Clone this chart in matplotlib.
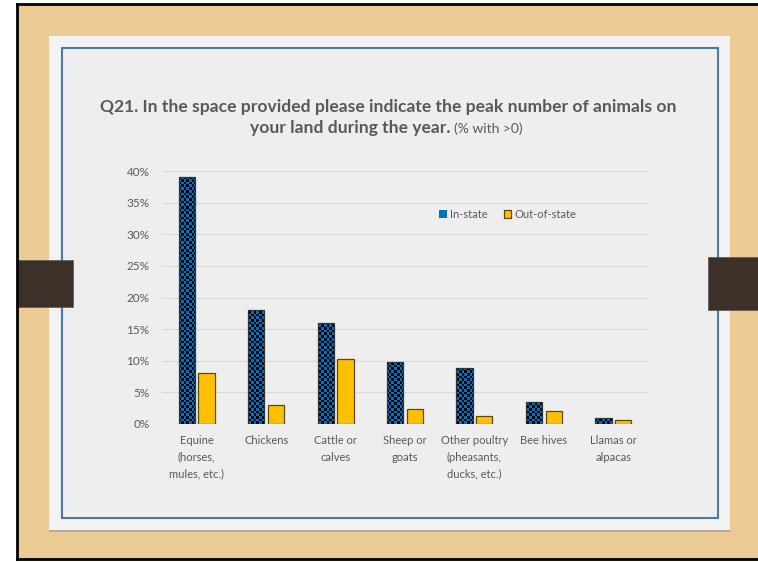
import numpy as np
import matplotlib
matplotlib.use("Agg")
import matplotlib.pyplot as plt
from matplotlib.patches import Rectangle
from matplotlib.path import Path
from matplotlib.colors import ListedColormap
from matplotlib.ticker import PercentFormatter

# ----------------------------
# Data (share of respondents with >0 animals)
# ----------------------------

categories = [
    "Equine\n(horses,\nmules, etc.)",
    "Chickens",
    "Cattle or\ncalves",
    "Sheep or\ngoats",
    "Other poultry\n(pheasants,\nducks, etc.)",
    "Bee hives",
    "Llamas or\nalpacas",
]
in_state = [0.391, 0.181, 0.160, 0.098, 0.088, 0.035, 0.009]
out_of_state = [0.080, 0.030, 0.103, 0.023, 0.013, 0.020, 0.006]
series_names = ["In-state", "Out-of-state"]

yticks = np.arange(0, 0.41, 0.05)

BLUE = "#0070C0"
GOLD = "#FFC000"
TEXT = "#595959"
FONT = "Lato"

plt.rcParams["font.family"] = [FONT, "DejaVu Sans"]

W, H = 758, 562
fig = plt.figure(figsize=(W / 100, H / 100), dpi=100)
fig.patch.set_facecolor("white")

# ----------------------------
# Slide background (pixel coordinates)
# ----------------------------

bg = fig.add_axes([0, 0, 1, 1])
bg.set_xlim(0, W)
bg.set_ylim(H, 0)
bg.axis("off")

bg.add_patch(Rectangle((17, 4), W - 17, 555, facecolor="#ebca94", edgecolor="none"))
bg.plot([17, 17], [4, 559], color="black", lw=2)
bg.plot([17, W], [4, 4], color="black", lw=2)
bg.plot([17, W], [559, 559], color="black", lw=2)

# card + shadow
bg.plot([50, 730], [531, 531], color="#a8a8a8", lw=1.2)
bg.add_patch(Rectangle((49, 36), 681, 494, facecolor="#f2f2f2", edgecolor="none"))
bg.add_patch(Rectangle((62, 48), 656, 470, facecolor="#eeeeee", edgecolor="#4a7aa0", lw=1.5))

# side tabs
bg.add_patch(Rectangle((18, 260), 55, 47, facecolor="#3b3129", edgecolor="#555555", lw=0.5))
bg.add_patch(Rectangle((708, 257), 50, 53, facecolor="#3b3129", edgecolor="#555555", lw=0.5))

# title
bg.text(388, 107, "Q21. In the space provided please indicate the peak number of animals on",
        ha="center", va="center", fontsize=12.6, fontweight="bold", color=TEXT)
bg.text(451, 128, "your land during the year.", ha="right", va="center",
        fontsize=12.6, fontweight="bold", color=TEXT)
bg.text(454, 129, "(% with >0)", ha="left", va="center", fontsize=10, color=TEXT)

# ----------------------------
# Chart
# ----------------------------

ax = fig.add_axes([162 / W, (H - 424) / H, 486 / W, 253 / H])
ax.set_facecolor("none")

x = np.arange(len(categories))
width = 0.235
off = 0.142

bars_in = ax.bar(x - off, in_state, width, color=BLUE, edgecolor="none",
                 zorder=2, label=series_names[0])
ax.bar(x + off, out_of_state, width, color=GOLD, edgecolor="#5a4a10",
       lw=0.9, zorder=3, label=series_names[1])

# checkerboard fill for in-state bars
nx, ny = 180, 94
checker = (np.add.outer(np.arange(ny), np.arange(nx)) % 2).astype(float)
im = ax.imshow(checker, cmap=ListedColormap([BLUE, "black"]),
               extent=(-0.5, len(categories) - 0.5, 0, 0.40),
               aspect="auto", interpolation="nearest", origin="lower", zorder=2.2)
paths = [b.get_path().transformed(b.get_patch_transform()) for b in bars_in]
im.set_clip_path(Path.make_compound_path(*paths), ax.transData)
ax.bar(x - off, in_state, width, fill=False, edgecolor="#333333", lw=0.9, zorder=3)

ax.set_aspect("auto")
ax.set_xlim(-0.5, len(categories) - 0.5)
ax.set_ylim(0, 0.40)

ax.set_yticks(yticks)
ax.yaxis.set_major_formatter(PercentFormatter(1.0, decimals=0))
ax.set_xticks(x)
ax.set_xticklabels(categories, linespacing=1.6)
ax.tick_params(axis="both", length=0, labelsize=8, labelcolor=TEXT)
ax.tick_params(axis="y", pad=9, labelsize=8.5)
ax.tick_params(axis="x", pad=8)

ax.grid(axis="y", color="#d9d9d9", lw=0.8, zorder=0)
ax.set_axisbelow(True)
for s in ax.spines.values():
    s.set_visible(False)

ax.legend(loc="center left", bbox_to_anchor=(0.55, 0.83), ncol=2, frameon=False,
          fontsize=8, labelcolor=TEXT, handlelength=0.7, handleheight=0.7,
          handletextpad=0.3, columnspacing=1.4)

fig.savefig("out.png", dpi=100)
